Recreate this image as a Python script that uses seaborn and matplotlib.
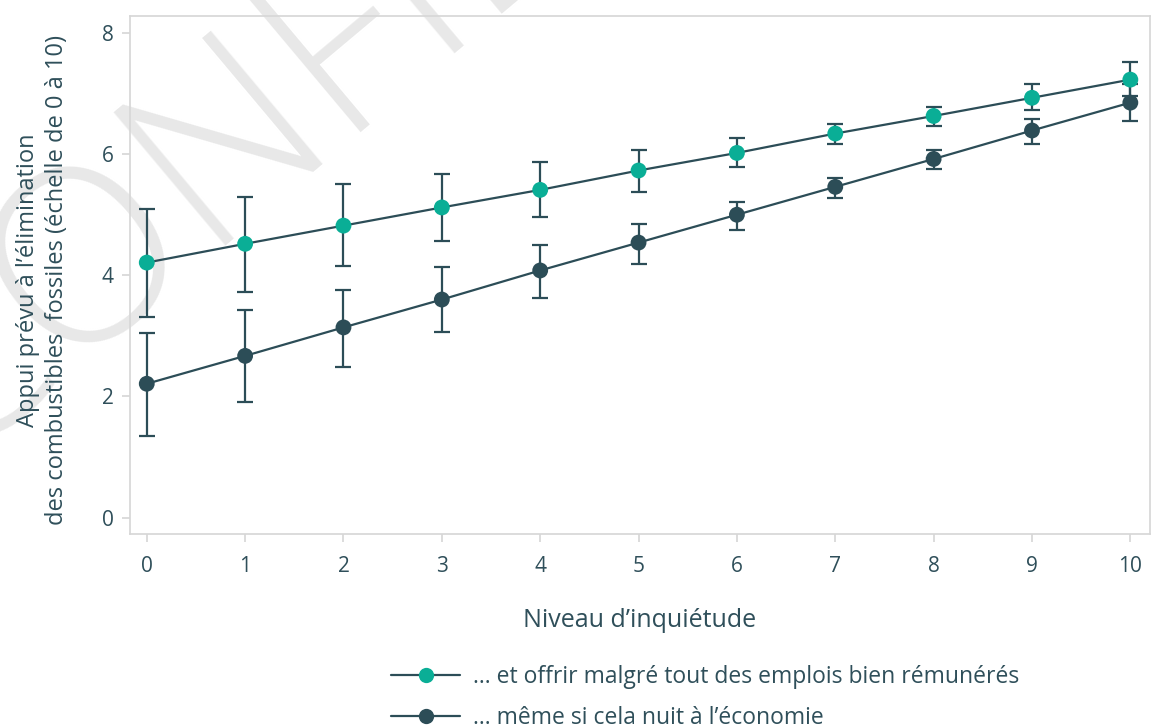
import numpy as np
import pandas as pd
import matplotlib.pyplot as plt
import seaborn as sns
from matplotlib.lines import Line2D

# ================= DATA =================
niveaux = list(range(11))
series = ["... et offrir malgré tout des emplois bien rémunérés",
          "... même si cela nuit à l’économie"]

appui_emplois = [4.21, 4.52, 4.82, 5.12, 5.41, 5.73, 6.02, 6.34, 6.63, 6.93, 7.23]
haut_emplois = [5.10, 5.30, 5.50, 5.68, 5.87, 6.07, 6.27, 6.50, 6.78, 7.15, 7.52]
bas_emplois = [3.32, 3.73, 4.16, 4.57, 4.97, 5.38, 5.78, 6.16, 6.47, 6.73, 6.96]

appui_economie = [2.21, 2.67, 3.14, 3.60, 4.08, 4.54, 5.00, 5.46, 5.92, 6.39, 6.85]
haut_economie = [3.05, 3.42, 3.76, 4.13, 4.50, 4.85, 5.21, 5.61, 6.07, 6.58, 7.15]
bas_economie = [1.35, 1.91, 2.49, 3.07, 3.63, 4.19, 4.75, 5.28, 5.76, 6.17, 6.55]

# ================= STYLE =================
TEAL = "#0aae96"
DARK = "#2c4d57"
TEXT = "#2f4f5a"
GRID = "#d6d6d6"

sns.set_style("white")
plt.rcParams["font.family"] = ["Open Sans", "DejaVu Sans"]

df = pd.DataFrame({
    "niveau": niveaux * 2,
    "appui": appui_emplois + appui_economie,
    "haut": haut_emplois + haut_economie,
    "bas": bas_emplois + bas_economie,
    "serie": [series[0]] * 11 + [series[1]] * 11,
})
palette = {series[0]: TEAL, series[1]: DARK}

fig = plt.figure(figsize=(11.58, 7.28), dpi=100)

# watermark (behind everything)
fig.text(-0.045, 0.36, "CONFIDENTIEL", fontsize=176, rotation=40, rotation_mode="anchor",
         color="#e8e8e8", family=["Open Sans", "DejaVu Sans"], fontweight=300, zorder=0,
         ha="left", va="baseline")

ax = fig.add_axes([0.1123, 0.2665, 0.8808, 0.7115])
ax.set_zorder(1)
ax.patch.set_alpha(0)

# ================= PLOT =================
for s in series:
    d = df[df["serie"] == s]
    ax.errorbar(d["niveau"], d["appui"],
                yerr=[d["appui"] - d["bas"], d["haut"] - d["appui"]],
                fmt="none", ecolor=DARK, elinewidth=1.6, capsize=5.5, capthick=1.6, zorder=2)

sns.lineplot(data=df, x="niveau", y="appui", units="serie", estimator=None,
             color=DARK, linewidth=1.6, ax=ax, zorder=3, legend=False)
sns.scatterplot(data=df, x="niveau", y="appui", hue="serie", palette=palette,
                s=130, linewidth=0, ax=ax, zorder=4, legend=False)

ax.set_xlim(-0.17, 10.2)
ax.set_ylim(-0.27, 8.28)
ax.set_xticks(niveaux)
ax.set_yticks([0, 2, 4, 6, 8])

for sp in ax.spines.values():
    sp.set_color(GRID)
    sp.set_linewidth(1.2)

ax.tick_params(axis="both", colors=GRID, labelcolor=TEXT, labelsize=15,
               length=6, width=1.2, left=True, bottom=True)
ax.tick_params(axis="x", pad=10)
ax.tick_params(axis="y", pad=6)

ax.set_xlabel("Niveau d’inquiétude", fontsize=18, color=TEXT, labelpad=22)
ax.set_ylabel("Appui prévu à l’élimination\ndes combustibles  fossiles (échelle de 0 à 10)",
              fontsize=17, color=TEXT, linespacing=1.25)
ax.yaxis.set_label_coords(-0.06, 0.49)

handles = [Line2D([0], [0], color=DARK, lw=1.6, marker="o", markersize=11,
                  markerfacecolor=palette[s], markeredgewidth=0) for s in series]
fig.legend(handles, series, loc="upper left", bbox_to_anchor=(0.33, 0.099),
           frameon=False, fontsize=16.5, labelcolor=TEXT, handlelength=3.0,
           handletextpad=0.55, labelspacing=0.75, borderaxespad=0)

fig.savefig("out.png", dpi=100)
